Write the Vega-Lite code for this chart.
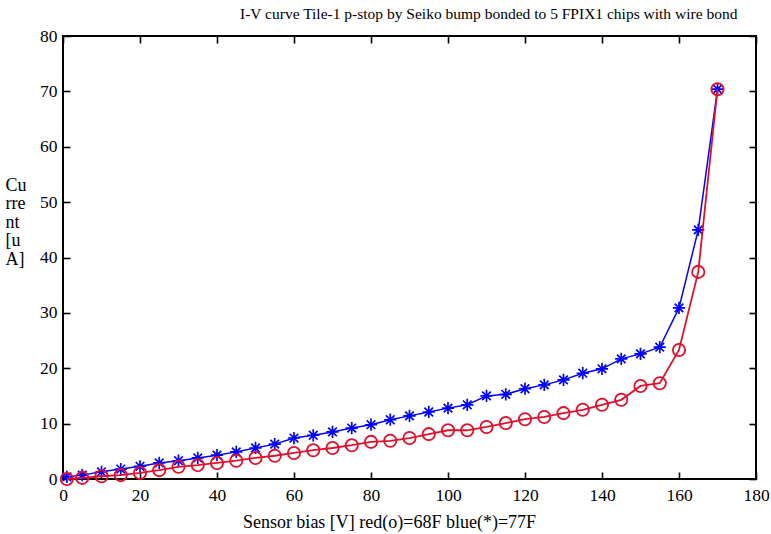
{
  "$schema": "https://vega.github.io/schema/vega-lite/v6.json",
  "autosize": {"type": "none"},
  "width": 693,
  "height": 443,
  "padding": {"left": 63, "top": 36, "right": 15, "bottom": 55},
  "background": "white",
  "title": {
    "text": "I-V curve Tile-1 p-stop by Seiko bump bonded to 5 FPIX1 chips with wire bond",
    "anchor": "start",
    "frame": "group",
    "dx": 177,
    "offset": 5,
    "font": "Liberation Serif",
    "fontSize": 15.5,
    "fontWeight": "normal",
    "color": "black"
  },
  "config": {
    "view": {"stroke": "black", "strokeWidth": 2},
    "axis": {
      "domain": false,
      "grid": false,
      "ticks": true,
      "tickSize": 7,
      "offset": -7,
      "tickWidth": 1.6,
      "tickColor": "black",
      "tickOpacity": 1,
      "zindex": 1,
      "labelFlush": false,
      "labelOverlap": false,
      "labelFont": "Liberation Serif",
      "labelFontSize": 17.5,
      "labelColor": "black",
      "titleFont": "Liberation Serif",
      "titleFontSize": 18,
      "titleFontWeight": "normal",
      "titleColor": "black"
    }
  },
  "datasets": {
    "blue77F": [
      {"V": 1, "I": 0.4}, {"V": 5, "I": 0.7}, {"V": 10, "I": 1.3}, {"V": 15, "I": 1.8},
      {"V": 20, "I": 2.3}, {"V": 25, "I": 2.9}, {"V": 30, "I": 3.3}, {"V": 35, "I": 3.8},
      {"V": 40, "I": 4.3}, {"V": 45, "I": 4.9}, {"V": 50, "I": 5.6}, {"V": 55, "I": 6.3},
      {"V": 60, "I": 7.4}, {"V": 65, "I": 7.9}, {"V": 70, "I": 8.5}, {"V": 75, "I": 9.2},
      {"V": 80, "I": 9.8}, {"V": 85, "I": 10.7}, {"V": 90, "I": 11.4}, {"V": 95, "I": 12.1},
      {"V": 100, "I": 12.8}, {"V": 105, "I": 13.4}, {"V": 110, "I": 15.0}, {"V": 115, "I": 15.3},
      {"V": 120, "I": 16.3}, {"V": 125, "I": 17.0}, {"V": 130, "I": 17.9}, {"V": 135, "I": 19.1},
      {"V": 140, "I": 19.9}, {"V": 145, "I": 21.7}, {"V": 150, "I": 22.6}, {"V": 155, "I": 23.8},
      {"V": 160, "I": 30.9}, {"V": 165, "I": 45.0}, {"V": 170, "I": 70.4}
    ],
    "red68F": [
      {"V": 1, "I": 0.0}, {"V": 5, "I": 0.2}, {"V": 10, "I": 0.5}, {"V": 15, "I": 0.7},
      {"V": 20, "I": 1.1}, {"V": 25, "I": 1.6}, {"V": 30, "I": 2.2}, {"V": 35, "I": 2.5},
      {"V": 40, "I": 2.9}, {"V": 45, "I": 3.3}, {"V": 50, "I": 3.8}, {"V": 55, "I": 4.2},
      {"V": 60, "I": 4.7}, {"V": 65, "I": 5.2}, {"V": 70, "I": 5.6}, {"V": 75, "I": 6.1},
      {"V": 80, "I": 6.7}, {"V": 85, "I": 6.9}, {"V": 90, "I": 7.4}, {"V": 95, "I": 8.1},
      {"V": 100, "I": 8.8}, {"V": 105, "I": 8.8}, {"V": 110, "I": 9.4}, {"V": 115, "I": 10.1},
      {"V": 120, "I": 10.8}, {"V": 125, "I": 11.2}, {"V": 130, "I": 11.9}, {"V": 135, "I": 12.5},
      {"V": 140, "I": 13.4}, {"V": 145, "I": 14.3}, {"V": 150, "I": 16.8}, {"V": 155, "I": 17.3},
      {"V": 160, "I": 23.3}, {"V": 165, "I": 37.4}, {"V": 170, "I": 70.4}
    ]
  },
  "resolve": {"axis": {"x": "independent", "y": "independent"}},
  "layer": [
    {
      "data": {"name": "blue77F"},
      "mark": {"type": "line", "color": "#0000ff", "strokeWidth": 1.5},
      "encoding": {
        "x": {"field": "V", "type": "quantitative", "scale": {"domain": [0, 180], "nice": false},
          "axis": {"orient": "bottom", "values": [0,20,40,60,80,100,120,140,160,180], "labelPadding": 7,
            "title": "Sensor bias [V] red(o)=68F blue(*)=77F", "titleX": 326, "titleY": 55, "titleBaseline": "alphabetic", "titleAnchor": "middle", "titleAlign": "center"}},
        "y": {"field": "I", "type": "quantitative", "scale": {"domain": [0, 80], "nice": false},
          "axis": {"orient": "left", "values": [0,10,20,30,40,50,60,70,80], "labelPadding": 6,
            "title": ["Cu", "rre", "nt", "[u", "A]"], "titleAngle": 0, "titleAlign": "left", "titleBaseline": "middle",
            "titleX": -65, "titleY": 149, "titleLineHeight": 18.5}}
      }
    },
    {
      "data": {"name": "blue77F"},
      "mark": {"type": "point", "shape": "M-1,0L1,0M0,-1L0,1M-0.7,-0.7L0.7,0.7M-0.7,0.7L0.7,-0.7", "filled": false, "color": "#0000ff", "strokeWidth": 1.7, "size": 150, "opacity": 1},
      "encoding": {
        "x": {"field": "V", "type": "quantitative", "scale": {"domain": [0, 180], "nice": false}, "axis": null},
        "y": {"field": "I", "type": "quantitative", "scale": {"domain": [0, 80], "nice": false}, "axis": null}
      }
    },
    {
      "data": {"name": "red68F"},
      "mark": {"type": "line", "color": "#e0102c", "strokeWidth": 1.8},
      "encoding": {
        "x": {"field": "V", "type": "quantitative", "scale": {"domain": [0, 180], "nice": false},
          "axis": {"orient": "top", "values": [0,20,40,60,80,100,120,140,160,180], "labels": false, "title": null}},
        "y": {"field": "I", "type": "quantitative", "scale": {"domain": [0, 80], "nice": false},
          "axis": {"orient": "right", "values": [0,10,20,30,40,50,60,70,80], "labels": false, "title": null}}
      }
    },
    {
      "data": {"name": "red68F"},
      "mark": {"type": "point", "shape": "circle", "filled": false, "color": "#e0102c", "strokeWidth": 1.8, "size": 150, "opacity": 1},
      "encoding": {
        "x": {"field": "V", "type": "quantitative", "scale": {"domain": [0, 180], "nice": false}, "axis": null},
        "y": {"field": "I", "type": "quantitative", "scale": {"domain": [0, 80], "nice": false}, "axis": null}
      }
    }
  ]
}
